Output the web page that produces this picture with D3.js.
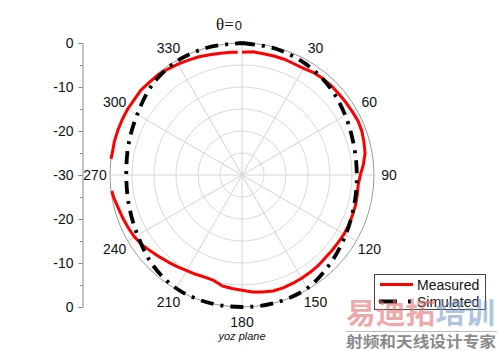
<!DOCTYPE html>
<html>
<head>
<meta charset="utf-8">
<script src="https://cdn.jsdelivr.net/npm/d3@7"></script>
<style>
  body { margin: 0; background: #fff; }
  svg { font-family: "Liberation Sans", Arial, sans-serif; }
</style>
</head>
<body>
<div id="chart"></div>
<script>
// angle (deg, clockwise from top) and gain (dB)
const simAngles = [0, 15, 30, 45, 60, 75, 90, 105, 120, 135, 150, 165, 180,
  195, 210, 225, 240, 255, 270, 285, 300, 315, 330, 345, 360];
const simDb = [0, -0.3, -0.9, -1.8, -2.9, -3.7, -3.9, -3.6, -2.8, -1.6, -0.3, 0, 0,
  0, -0.2, -1.2, -2.6, -3.4, -3.7, -3.3, -2.5, -1.1, -0.2, 0, 0];

const measAngles = [0, 5, 10, 15, 20, 25, 30, 35, 40, 45, 50, 55, 60, 65, 70, 75, 80, 85,
  90, 95, 100, 105, 110, 115, 120, 125, 130, 135, 140, 145, 150, 155, 160, 165, 170, 175,
  180, 185, 190, 195, 200, 205, 210, 215, 220, 225, 230, 235, 240, 245, 250, 255, 260, 263,
  265, 270, 275, 277, 280, 285, 290, 295, 300, 305, 310, 315, 320, 325, 330, 335, 340, 345,
  350, 355, 358];
const measDb = [-2.1, -1.9, -2.0, -2.0, -2.0, -2.1, -2.0, -1.6, -1.4, -1.3, -1.3, -1.2, -1.1, -0.9, -1.0, -1.3, -1.6, -2.3,
  -3.1, -3.5, -3.4, -3.3, -3.3, -3.2, -3.2, -3.3, -3.3, -3.3, -3.1, -3.0, -2.9, -2.8, -2.7, -2.7, -3.0, -3.3,
  -3.8, -4.1, -4.4, -5.2, -5.3, -5.1, -4.9, -4.5, -4.1, -3.6, -3.0, -2.3, -1.8, -1.5, -1.2, -0.9, -0.4, -0.2,
  null, null, null, 0, -0.1, 0, 0, 0, 0, -0.1, 0, -0.2, -0.3, -0.6, -0.9, -1.2, -1.4, -1.7,
  -1.9, -2.0, -2.1];

const angleTicks = [0, 30, 60, 90, 120, 150, 180, 210, 240, 270, 300, 330];
const ringTicks = [-25, -20, -15, -10, -5, 0];
const axisMajor = [-30, -20, -10, 0];
const axisMinor = [-25, -15, -5];

const width = 500, height = 351;
const cx = 242, cy = 175, R = 132;

const svg = d3.select('#chart').append('svg')
  .attr('width', width)
  .attr('height', height);

const r = d3.scaleLinear().domain([-30, 0]).range([0, R]);
const rad = a => a * Math.PI / 180;

const polar = svg.append('g').attr('transform', `translate(${cx},${cy})`);

// grid rings
polar.selectAll('.ring')
  .data(ringTicks)
  .join('circle')
  .attr('class', 'ring')
  .attr('r', d => r(d))
  .attr('fill', 'none')
  .attr('stroke', d => d === 0 ? '#9a9a9a' : '#d9d9d9')
  .attr('stroke-width', 1);

// spokes
polar.selectAll('.spoke')
  .data(angleTicks)
  .join('line')
  .attr('class', 'spoke')
  .attr('x1', 0).attr('y1', 0)
  .attr('x2', d => R * Math.sin(rad(d)))
  .attr('y2', d => -R * Math.cos(rad(d)))
  .attr('stroke', '#d3d3d3')
  .attr('stroke-width', 1);

// angle labels
polar.selectAll('.alabel')
  .data(angleTicks.filter(d => d !== 0))
  .join('text')
  .attr('class', 'alabel')
  .attr('x', d => 147 * Math.sin(rad(d)))
  .attr('y', d => -147 * Math.cos(rad(d)))
  .attr('text-anchor', 'middle')
  .attr('dominant-baseline', 'central')
  .attr('font-size', 14)
  .attr('fill', '#111')
  .text(d => d);

const theta = svg.append('text')
  .attr('x', 216)
  .attr('y', 30)
  .attr('fill', '#111');
theta.append('tspan')
  .attr('font-family', '"Liberation Serif", "DejaVu Serif", serif')
  .attr('font-size', 17)
  .text('θ=');
theta.append('tspan')
  .attr('font-size', 13)
  .attr('dx', 1)
  .text('0');

// left dB axis (mirrored top / bottom)
const yTop = d3.scaleLinear().domain([-30, 0]).range([cy, cy - R]);
const yBot = d3.scaleLinear().domain([-30, 0]).range([cy, cy + R]);
const axX = 82.5;

[[yTop, axisMajor], [yBot, axisMajor.filter(d => d !== -30)]].forEach(([sc, vals]) => {
  const g = svg.append('g').attr('transform', `translate(${axX},0)`);
  g.call(d3.axisLeft(sc).tickValues(vals).tickSize(4).tickPadding(5).tickFormat(d => String(d)));
  g.select('.domain').attr('stroke', '#888');
  g.selectAll('.tick line').attr('stroke', '#888');
  g.selectAll('.tick text')
    .attr('font-size', 14)
    .attr('font-family', '"Liberation Sans", Arial, sans-serif')
    .attr('fill', '#111');
  const m = svg.append('g').attr('transform', `translate(${axX},0)`);
  m.call(d3.axisLeft(sc).tickValues(axisMinor).tickSize(2.5).tickFormat(''));
  m.select('.domain').remove();
  m.selectAll('.tick line').attr('stroke', '#888');
});

// curves
const simData = simAngles.map((a, i) => ({a, v: simDb[i]}));
const measData = measAngles.map((a, i) => ({a, v: measDb[i]}));

const simLine = d3.lineRadial()
  .angle(d => rad(d.a))
  .radius(d => r(d.v))
  .curve(d3.curveCatmullRom);

const measLine = d3.lineRadial()
  .defined(d => d.v !== null)
  .angle(d => rad(d.a))
  .radius(d => r(d.v))
  .curve(d3.curveLinear);

polar.append('path')
  .datum(measData)
  .attr('d', measLine)
  .attr('fill', 'none')
  .attr('stroke', '#ff0000')
  .attr('stroke-width', 3)
  .attr('stroke-linejoin', 'round');

polar.append('path')
  .datum(simData)
  .attr('d', simLine)
  .attr('fill', 'none')
  .attr('stroke', '#000')
  .attr('stroke-width', 3.8)
  .attr('stroke-dasharray', '13,7,3,7');

// footer
svg.append('text')
  .attr('x', cx)
  .attr('y', 340)
  .attr('text-anchor', 'middle')
  .attr('font-size', 11)
  .attr('font-style', 'italic')
  .attr('fill', '#111')
  .text('yoz plane');

// legend
const leg = svg.append('g');
leg.append('rect')
  .attr('x', 374.5).attr('y', 274.5)
  .attr('width', 111).attr('height', 35)
  .attr('fill', '#fff')
  .attr('stroke', '#444')
  .attr('stroke-width', 1);
leg.append('line')
  .attr('x1', 380).attr('x2', 413).attr('y1', 284.5).attr('y2', 284.5)
  .attr('stroke', '#ff0000').attr('stroke-width', 3);
leg.append('line')
  .attr('x1', 379).attr('x2', 411).attr('y1', 301.5).attr('y2', 301.5)
  .attr('stroke', '#000').attr('stroke-width', 3.8)
  .attr('stroke-dasharray', '18,11,3,20');
leg.append('text')
  .attr('x', 417).attr('y', 289.5)
  .attr('font-size', 14).attr('fill', '#111')
  .text('Measured');
leg.append('text')
  .attr('x', 417).attr('y', 306.5)
  .attr('font-size', 14).attr('fill', '#111')
  .text('Simulated');

// watermark
const wm = svg.append('text')
  .attr('x', 346)
  .attr('y', 324)
  .attr('font-family', '"Noto Sans CJK SC", sans-serif')
  .attr('font-weight', 'bold')
  .attr('font-size', 29)
  .attr('textLength', 149)
  .attr('lengthAdjust', 'spacingAndGlyphs');
wm.append('tspan').attr('fill', '#e07070').attr('fill-opacity', 0.6).text('易迪拓');
wm.append('tspan').attr('fill', '#7a9ccc').attr('fill-opacity', 0.6).text('培训');
svg.append('line')
  .attr('x1', 346).attr('x2', 497).attr('y1', 331.5).attr('y2', 331.5)
  .attr('stroke', '#bbb').attr('stroke-width', 1);
svg.append('text')
  .attr('x', 346)
  .attr('y', 347)
  .attr('font-family', '"Noto Sans CJK SC", sans-serif')
  .attr('font-weight', 'bold')
  .attr('font-size', 15)
  .attr('textLength', 150)
  .attr('lengthAdjust', 'spacingAndGlyphs')
  .attr('fill', '#8a8a8a')
  .text('射频和天线设计专家');
</script>
</body>
</html>
